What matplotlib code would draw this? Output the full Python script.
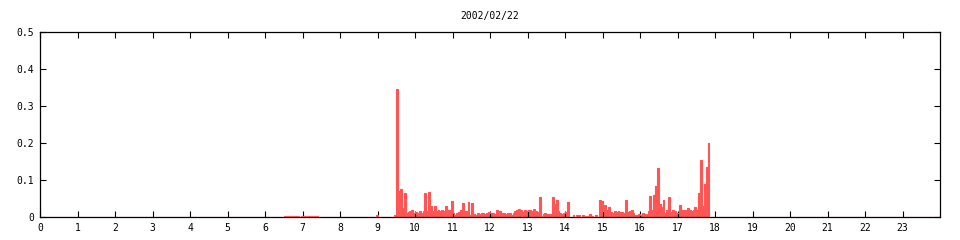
import numpy as np
import matplotlib
matplotlib.use("Agg")
import matplotlib.pyplot as plt

title = "2002/02/22"
step = 0.05  # hours per bin (3 minutes)

# small activity in the morning
start_a = 6.50
vals_a = [0.003, 0.003, 0.003, 0.003, 0.003, 0.003, 0.003, 0.003, 0.0,
          0.003, 0.003, 0.003, 0.003, 0.003, 0.003, 0.003, 0.003, 0.003]

start_b = 8.95
vals_b = [0.005]

# main block, 9.45 .. 17.85 h
start_c = 9.45
vals_09 = [0.005, 0.345, 0.070, 0.075, 0.025, 0.065, 0.012, 0.014, 0.015, 0.020, 0.012]
vals_10 = [0.014, 0.012, 0.015, 0.012, 0.015, 0.064, 0.015, 0.067, 0.030, 0.015,
           0.030, 0.015, 0.018, 0.015, 0.020, 0.015, 0.030, 0.018, 0.020, 0.044]
vals_11 = [0.010, 0.005, 0.010, 0.014, 0.018, 0.037, 0.015, 0.016, 0.040, 0.006,
           0.038, 0.009, 0.006, 0.010, 0.008, 0.010, 0.012, 0.008, 0.011, 0.014]
vals_12 = [0.010, 0.010, 0.008, 0.018, 0.008, 0.015, 0.012, 0.012, 0.008, 0.010,
           0.010, 0.006, 0.010, 0.015, 0.018, 0.022, 0.020, 0.014, 0.020, 0.016]
vals_13 = [0.020, 0.018, 0.015, 0.022, 0.015, 0.013, 0.053, 0.004, 0.008, 0.010,
           0.008, 0.008, 0.007, 0.055, 0.035, 0.045, 0.015, 0.012, 0.008, 0.010]
vals_14 = [0.013, 0.040, 0.000, 0.000, 0.005, 0.000, 0.005, 0.005, 0.000, 0.005,
           0.003, 0.003, 0.002, 0.008, 0.004, 0.000, 0.005, 0.000, 0.046, 0.044]
vals_15 = [0.016, 0.032, 0.020, 0.028, 0.014, 0.010, 0.017, 0.013, 0.015, 0.013,
           0.014, 0.012, 0.046, 0.013, 0.015, 0.020, 0.012, 0.006, 0.005, 0.007]
vals_16 = [0.006, 0.010, 0.008, 0.008, 0.015, 0.057, 0.020, 0.060, 0.085, 0.133,
           0.035, 0.028, 0.046, 0.012, 0.020, 0.055, 0.013, 0.020, 0.017, 0.012]
vals_17 = [0.010, 0.032, 0.020, 0.020, 0.020, 0.025, 0.018, 0.015, 0.020, 0.028,
           0.020, 0.065, 0.154, 0.030, 0.089, 0.136, 0.200]

x_ticks = list(range(0, 24))
y_ticks = [0, 0.1, 0.2, 0.3, 0.4, 0.5]
y_labels = ["0", "0.1", "0.2", "0.3", "0.4", "0.5"]

# build a full day series on the bin grid
n = int(round(24 / step))
hours = np.arange(n + 1) * step
values = np.zeros(n + 1)
vals_c = vals_09 + vals_10 + vals_11 + vals_12 + vals_13 + vals_14 + vals_15 + vals_16 + vals_17
for start, vals in [(start_a, vals_a), (start_b, vals_b), (start_c, vals_c)]:
    i0 = int(round(start / step))
    values[i0:i0 + len(vals)] = vals

red = "#ff5555"
plt.rcParams["font.family"] = ["DejaVu Sans Mono"]

fig = plt.figure(figsize=(9.6, 2.4), dpi=100)
ax = fig.add_axes([40 / 960, 23 / 240, 900 / 960, 185 / 240])
ax.fill_between(hours, values, step="post", color=red, linewidth=0)
# outline drawn above the spines so the zero line shows red like the original
ax.step(hours, values, where="post", color=red, linewidth=0.8, zorder=3)

ax.set_xlim(0, 24)
ax.set_ylim(0, 0.5)
ax.set_xticks(x_ticks)
ax.set_xticklabels([str(t) for t in x_ticks])
ax.set_yticks(y_ticks)
ax.set_yticklabels(y_labels)
ax.tick_params(direction="in", length=4, width=0.8, top=True, right=True,
               labelsize=7, colors="black")
ax.tick_params(axis="x", pad=4)
ax.tick_params(axis="y", pad=4)
for s in ax.spines.values():
    s.set_linewidth(0.9)
ax.set_title(title, fontsize=7, pad=9)

fig.savefig("out.png", dpi=100)
